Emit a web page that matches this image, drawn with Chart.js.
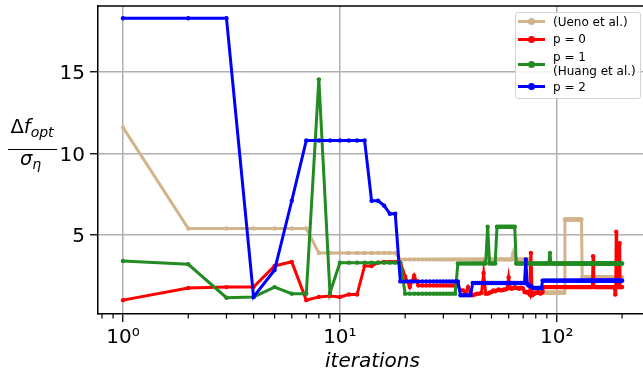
<!DOCTYPE html>
<html>
<head>
<meta charset="utf-8">
<script src="https://cdn.jsdelivr.net/npm/chart.js@4.4.0/dist/chart.umd.min.js"></script>
<style>
  body { margin: 0; overflow: hidden; background: #fff; font-family: 'DejaVu Sans', sans-serif; }
  #wrap { position: relative; width: 643px; height: 378px; overflow: hidden; }
  #chart { position: absolute; left: 0; top: 0; }
  .frac { position: absolute; left: 8px; width: 49px; text-align: center; font-size: 19.5px; line-height: 19px; white-space: nowrap; color: #000; }
  .frac i { font-style: italic; }
  .frac .sub { font-size: 14px; font-style: italic; position: relative; top: 4px; }
  #fracbar { position: absolute; left: 8px; top: 148.5px; width: 49px; height: 1.6px; background: #000; }
  #legend { position: absolute; left: 515px; top: 12px; width: 126px; height: 87px; box-sizing: border-box;
            border: 1px solid #d3d3d3; border-radius: 3px; background: rgba(255,255,255,0.85); }
  .lg-line { position: absolute; height: 3px; width: 27px; left: 518px; }
  .lg-dot { position: absolute; width: 7px; height: 7px; border-radius: 50%; left: 528px; }
  .lg-text { position: absolute; left: 553px; font-size: 12px; line-height: 14px; color: #000; white-space: nowrap; }
</style>
</head>
<body>
<div id="wrap">
  <canvas id="chart" width="660" height="378"></canvas>
  <div class="frac" style="top:116.5px; left:6px; width:52px">&Delta;<i>f</i><span class="sub">opt</span></div>
  <div id="fracbar"></div>
  <div class="frac" style="top:149px; left:6px"><i>&sigma;</i><span class="sub">&eta;</span></div>
  <div id="legend"></div>
</div>
<script>
// values per iteration (iteration 1 .. 200)
const ueno = [
  11.6, 5.4, 5.4, 5.4, 5.4, 5.4, 5.4, 3.9, 3.9, 3.9,
  3.9, 3.9, 3.9, 3.9, 3.9, 3.9, 3.9, 3.9, 3.5, 3.5,
  3.5, 3.5, 3.5, 3.5, 3.5, 3.5, 3.5, 3.5, 3.5, 3.5,
  3.5, 3.5, 3.5, 3.5, 3.5, 3.5, 3.5, 3.5, 3.5, 3.5,
  3.5, 3.5, 3.5, 3.5, 3.5, 3.5, 3.5, 3.5, 3.5, 3.5,
  3.5, 3.5, 3.5, 3.5, 3.5, 3.5, 3.5, 3.5, 3.5, 3.5,
  3.5, 3.5, 3.9, 3.5, 3.5, 3.5, 3.5, 3.5, 3.5, 3.5,
  3.5, 3.5, 3.5, 3.5, 3.5, 1.45, 1.45, 1.45, 1.45, 1.45,
  1.45, 1.45, 1.45, 1.45, 1.45, 1.45, 1.45, 1.45, 1.45, 1.45,
  1.45, 1.45, 1.45, 1.45, 1.45, 1.45, 1.45, 1.45, 1.45, 1.45,
  1.45, 1.45, 1.45, 1.45, 1.45, 1.45, 1.45, 1.45, 5.95, 5.95,
  5.95, 5.95, 5.95, 5.95, 5.95, 5.95, 5.95, 5.95, 5.95, 5.95,
  5.95, 5.95, 5.95, 5.95, 5.95, 5.95, 5.95, 5.95, 5.95, 5.95,
  2.4, 2.4, 2.4, 2.4, 2.4, 2.4, 2.4, 2.4, 2.4, 2.4,
  2.4, 2.4, 2.4, 2.4, 2.4, 2.4, 2.4, 2.4, 2.4, 2.4,
  2.4, 2.4, 2.4, 2.4, 2.4, 2.4, 2.4, 2.4, 2.4, 2.4,
  2.4, 2.4, 2.4, 2.4, 2.4, 2.4, 2.4, 2.4, 2.4, 2.4,
  2.4, 2.4, 2.4, 2.4, 2.4, 2.4, 2.4, 2.4, 2.4, 2.4,
  2.4, 2.4, 2.4, 2.4, 2.4, 2.4, 2.4, 2.4, 2.4, 2.4,
  2.4, 2.4, 2.4, 2.4, 2.4, 2.4, 2.4, 2.4, 2.4, 2.4
];
const p0 = [
  1.0, 1.75, 1.8, 1.8, 3.1, 3.35, 1.0, 1.2, 1.25, 1.2,
  1.35, 1.35, 3.1, 3.1, 3.3, 3.35, 3.35, 3.35, 3.3, 2.45,
  1.8, 2.5, 1.9, 1.9, 1.9, 1.9, 1.9, 1.9, 1.9, 1.9,
  1.9, 1.9, 1.9, 1.9, 1.9, 1.6, 1.6, 1.45, 1.8, 1.5,
  1.3, 1.35, 1.4, 1.4, 1.45, 2.65, 1.4, 1.4, 1.45, 1.5,
  1.6, 1.55, 1.6, 1.65, 1.6, 1.6, 1.65, 1.65, 1.7, 2.4,
  1.75, 1.7, 1.75, 1.8, 1.75, 1.75, 1.7, 1.75, 1.75, 1.7,
  1.5, 1.5, 1.45, 1.5, 1.35, 3.9, 1.3, 1.35, 1.4, 1.45,
  1.45, 1.5, 1.45, 1.4, 1.45, 1.5, 1.8, 1.8, 1.8, 1.8,
  1.8, 1.8, 1.8, 1.8, 1.8, 1.8, 1.8, 1.8, 1.8, 1.8,
  1.8, 1.8, 1.8, 1.8, 1.8, 1.8, 1.8, 1.8, 1.8, 1.8,
  1.8, 1.8, 1.8, 1.8, 1.8, 1.8, 1.8, 1.8, 1.8, 1.8,
  1.8, 1.8, 1.8, 1.8, 1.8, 1.8, 1.8, 1.8, 1.8, 1.8,
  1.8, 1.8, 1.8, 1.8, 1.8, 1.8, 1.8, 1.8, 1.8, 1.8,
  1.8, 1.8, 1.8, 1.8, 1.8, 1.85, 3.7, 1.85, 1.8, 1.8,
  1.8, 1.8, 1.8, 1.8, 1.8, 1.8, 1.8, 1.8, 1.8, 1.8,
  1.8, 1.8, 1.8, 1.8, 1.8, 1.8, 1.8, 1.8, 1.8, 1.8,
  1.8, 1.8, 1.8, 1.8, 1.8, 1.8, 1.8, 1.8, 1.8, 1.8,
  1.8, 1.8, 1.8, 1.8, 1.8, 1.35, 1.8, 5.2, 1.8, 1.8,
  1.8, 1.8, 1.8, 1.8, 4.5, 1.8, 1.8, 1.8, 1.8, 1.8
];
const p1 = [
  3.4, 3.2, 1.15, 1.2, 1.8, 1.4, 1.4, 14.55, 1.45, 3.3,
  3.3, 3.3, 3.3, 3.3, 3.3, 3.3, 3.3, 3.3, 3.3, 1.4,
  1.4, 1.4, 1.4, 1.4, 1.4, 1.4, 1.4, 1.4, 1.4, 1.4,
  1.4, 1.4, 1.4, 1.4, 3.25, 3.25, 3.25, 3.25, 3.25, 3.25,
  3.25, 3.25, 3.25, 3.25, 3.25, 3.25, 3.25, 5.5, 3.25, 3.25,
  3.25, 3.25, 5.5, 5.5, 5.5, 5.5, 5.5, 5.5, 5.5, 5.5,
  5.5, 5.5, 5.5, 5.5, 3.25, 3.25, 3.25, 3.25, 3.25, 3.25,
  3.25, 3.25, 3.25, 3.25, 3.25, 3.25, 3.25, 3.25, 3.25, 3.25,
  3.25, 3.25, 3.25, 3.25, 3.25, 3.25, 3.25, 3.25, 3.25, 3.25,
  3.25, 3.25, 3.9, 3.25, 3.25, 3.25, 3.25, 3.25, 3.25, 3.25,
  3.25, 3.25, 3.25, 3.25, 3.25, 3.25, 3.25, 3.25, 3.25, 3.25,
  3.25, 3.25, 3.25, 3.25, 3.25, 3.25, 3.25, 3.25, 3.25, 3.25,
  3.25, 3.25, 3.25, 3.25, 3.25, 3.25, 3.25, 3.25, 3.25, 3.25,
  3.25, 3.25, 3.25, 3.25, 3.25, 3.25, 3.25, 3.25, 3.25, 3.25,
  3.25, 3.25, 3.25, 3.25, 3.25, 3.25, 3.25, 3.25, 3.25, 3.25,
  3.25, 3.25, 3.25, 3.25, 3.25, 3.25, 3.25, 3.25, 3.25, 3.25,
  3.25, 3.25, 3.25, 3.25, 3.25, 3.25, 3.25, 3.25, 3.25, 3.25,
  3.25, 3.25, 3.25, 3.25, 3.25, 3.25, 3.25, 3.25, 3.25, 3.25,
  3.25, 3.25, 3.25, 3.25, 3.25, 3.25, 3.25, 3.25, 3.25, 3.25,
  3.25, 3.25, 3.25, 3.25, 3.25, 3.25, 3.25, 3.25, 3.25, 3.25
];
const p2 = [
  18.3, 18.3, 18.3, 1.2, 2.85, 7.1, 10.8, 10.8, 10.8, 10.8,
  10.8, 10.8, 10.8, 7.1, 7.1, 6.8, 6.3, 6.3, 2.15, 2.15,
  2.15, 2.15, 2.15, 2.15, 2.15, 2.15, 2.15, 2.15, 2.15, 2.15,
  2.15, 2.15, 2.15, 2.15, 2.15, 1.3, 1.3, 1.3, 1.3, 1.3,
  2.05, 2.05, 2.05, 2.05, 2.05, 2.05, 2.05, 2.05, 2.05, 2.05,
  2.05, 2.05, 2.05, 2.05, 2.05, 2.05, 2.05, 2.05, 2.05, 2.05,
  2.05, 2.05, 2.05, 2.05, 2.05, 2.05, 2.05, 2.05, 2.05, 2.05,
  2.05, 3.5, 2.0, 1.9, 1.9, 1.85, 1.8, 1.75, 1.75, 1.75,
  1.75, 1.75, 1.75, 1.75, 1.75, 2.2, 2.2, 2.2, 2.2, 2.2,
  2.2, 2.2, 2.2, 2.2, 2.2, 2.2, 2.2, 2.2, 2.2, 2.2,
  2.2, 2.2, 2.2, 2.2, 2.2, 2.2, 2.2, 2.2, 2.2, 2.2,
  2.2, 2.2, 2.2, 2.2, 2.2, 2.2, 2.2, 2.2, 2.2, 2.2,
  2.2, 2.2, 2.2, 2.2, 2.2, 2.2, 2.2, 2.2, 2.2, 2.2,
  2.2, 2.2, 2.2, 2.2, 2.2, 2.2, 2.2, 2.2, 2.2, 2.2,
  2.2, 2.2, 2.2, 2.2, 2.2, 2.2, 2.2, 2.2, 2.2, 2.2,
  2.2, 2.2, 2.2, 2.2, 2.2, 2.2, 2.2, 2.2, 2.2, 2.2,
  2.2, 2.2, 2.2, 2.2, 2.2, 2.2, 2.2, 2.2, 2.2, 2.2,
  2.2, 2.2, 2.2, 2.2, 2.2, 2.2, 2.2, 2.2, 2.2, 2.2,
  2.2, 2.2, 2.2, 2.2, 2.2, 2.2, 2.2, 2.2, 2.2, 2.2,
  2.2, 2.2, 2.2, 2.2, 2.2, 2.2, 2.2, 2.2, 2.2, 2.2
];
const iterations = ueno.map((_, i) => i + 1);

const xTicks = [0.8, 0.9, 1, 2, 3, 4, 5, 6, 7, 8, 9, 10, 20, 30, 40, 50, 60, 70, 80, 90, 100, 200];
const xLabels = { 1: '10⁰', 10: '10¹', 100: '10²' };
const yTicks = [5, 10, 15];

const seriesNames = [['(Ueno et al.)'], ['p = 0'], ['p = 1', '(Huang et al.)'], ['p = 2']];
const colors = ['#d2b48c', '#ff0000', '#228b22', '#0000ff'];
const allSeries = [ueno, p0, p1, p2];

const FONT = "'DejaVu Sans', sans-serif";
const isMajor = v => xLabels[v] !== undefined;

function pts(vals) {
  return vals.map((v, i) => ({ x: iterations[i], y: v }));
}

const frame = {
  id: 'frame',
  afterDraw(chart) {
    const ctx = chart.ctx, xs = chart.scales.x, a = chart.chartArea;
    ctx.save();
    ctx.strokeStyle = '#000';
    ctx.lineWidth = 1.2;
    xs.ticks.forEach(t => {
      if (isMajor(t.value)) return;
      const px = xs.getPixelForValue(t.value);
      ctx.beginPath();
      ctx.moveTo(px, a.bottom);
      ctx.lineTo(px, a.bottom + 4.5);
      ctx.stroke();
    });
    ctx.lineWidth = 1.5;
    ctx.beginPath();
    ctx.moveTo(a.left, a.top);
    ctx.lineTo(a.right, a.top);
    ctx.stroke();
    ctx.restore();
  }
};

new Chart(document.getElementById('chart'), {
  type: 'line',
  data: {
    datasets: allSeries.map((s, i) => ({
      label: seriesNames[i].join(' '),
      data: pts(s),
      borderColor: colors[i],
      backgroundColor: colors[i],
      pointBackgroundColor: colors[i],
      pointBorderWidth: 0,
      pointRadius: 2.2,
      borderWidth: 3,
      tension: 0,
      fill: false,
      order: 4 - i
    }))
  },
  options: {
    responsive: false,
    animation: false,
    layout: { padding: { top: 6, left: 0, right: 13, bottom: 0 } },
    plugins: { legend: { display: false }, tooltip: { enabled: false } },
    scales: {
      x: {
        type: 'logarithmic',
        min: 0.767,
        max: 260.6,
        afterBuildTicks: s => { s.ticks = xTicks.map(v => ({ value: v })); },
        afterFit: s => { s.height = 64; s.paddingLeft = 0; s.paddingRight = 0; },
        ticks: {
          autoSkip: false, maxRotation: 0, padding: 4, color: '#000',
          font: { family: FONT, size: 20 },
          callback: v => xLabels[v] || ''
        },
        grid: {
          lineWidth: 1.5,
          color: c => (c.tick && isMajor(c.tick.value)) ? '#b0b0b0' : 'rgba(0,0,0,0)',
          tickColor: c => (c.tick && isMajor(c.tick.value)) ? '#000' : 'rgba(0,0,0,0)',
          tickLength: 8,
          tickWidth: 1.3
        },
        border: { color: '#000', width: 1.5 },
        title: {
          display: true, text: 'iterations', color: '#000',
          font: { family: FONT, size: 20, style: 'italic' },
          padding: { top: 0, bottom: 4 }
        }
      },
      y: {
        min: 0.15,
        max: 19.05,
        afterBuildTicks: s => { s.ticks = yTicks.map(v => ({ value: v })); },
        afterFit: s => { s.width = 98; s.paddingTop = 0; s.paddingBottom = 0; },
        ticks: { padding: 5, labelOffset: 2, color: '#000', font: { family: FONT, size: 20 } },
        grid: { color: '#b0b0b0', lineWidth: 1.5, tickColor: '#000', tickLength: 8, tickWidth: 1.3 },
        border: { color: '#000', width: 1.5 }
      }
    }
  },
  plugins: [frame]
});

// legend, matplotlib style, upper right
const legendRows = [
  { line: 21.7, text: 22.3 },
  { line: 39, text: 39.3 },
  { line: 64.3, text: 63.7 },
  { line: 86.7, text: 86.7 }
];
const wrap = document.getElementById('wrap');
seriesNames.forEach((name, i) => {
  const r = legendRows[i];
  const ln = document.createElement('div');
  ln.className = 'lg-line';
  ln.style.top = (r.line - 1.5) + 'px';
  ln.style.background = colors[i];
  const dot = document.createElement('div');
  dot.className = 'lg-dot';
  dot.style.top = (r.line - 3.5) + 'px';
  dot.style.background = colors[i];
  const tx = document.createElement('div');
  tx.className = 'lg-text';
  tx.style.top = (r.text - 7 * name.length) + 'px';
  tx.innerHTML = name.join('<br>');
  wrap.appendChild(ln);
  wrap.appendChild(dot);
  wrap.appendChild(tx);
});
</script>
</body>
</html>
